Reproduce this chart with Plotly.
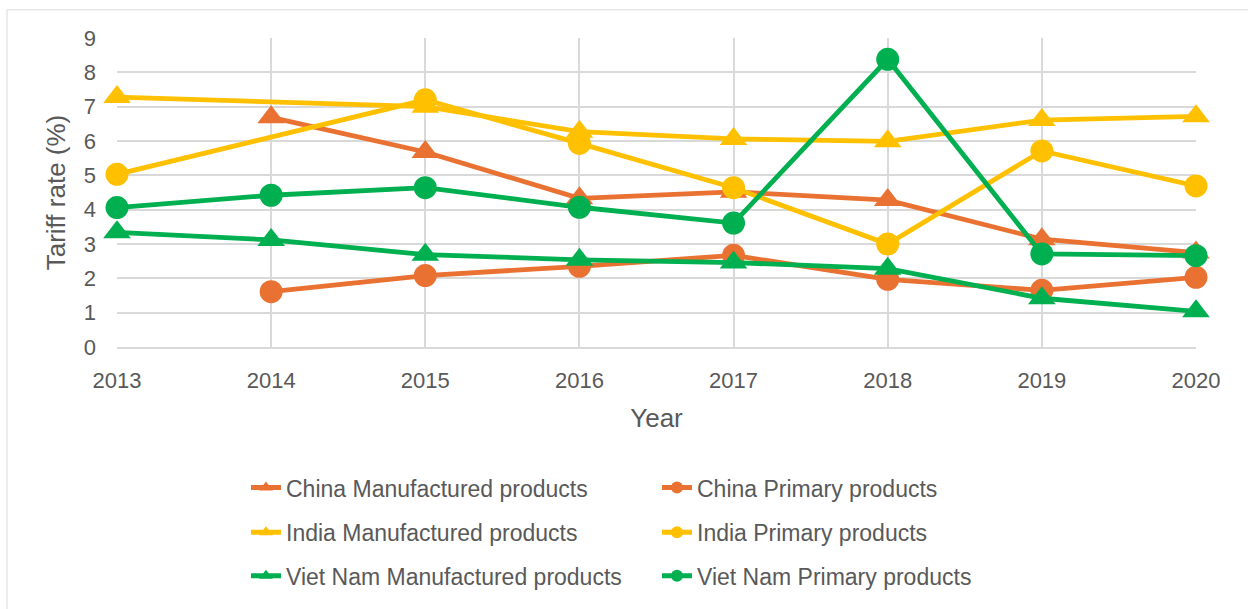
import plotly.graph_objects as go

# Tariff rates (%) by year; None marks a year with no reported rate
years = [2013, 2014, 2015, 2016, 2017, 2018, 2019, 2020]

china_manufactured = [None, 6.69, 5.68, 4.33, 4.52, 4.28, 3.14, 2.75]
china_primary = [None, 1.61, 2.08, 2.35, 2.67, 1.97, 1.65, 2.03]
india_manufactured = [7.28, None, 7.0, 6.27, 6.06, 5.99, 6.61, 6.72]
india_primary = [5.03, None, 7.2, 5.93, 4.64, 3.0, 5.71, 4.69]
vietnam_manufactured = [3.34, 3.12, 2.69, 2.54, 2.46, 2.28, 1.42, 1.04]
vietnam_primary = [4.06, 4.42, 4.64, 4.07, 3.61, 8.38, 2.71, 2.66]

ORANGE = "#E97132"
YELLOW = "#FFC000"
GREEN = "#00B050"
TEXT = "#595959"
GRID = "#D9D9D9"
FONT = "Liberation Sans, Arial, sans-serif"

series = [
    ("China Manufactured products", china_manufactured, ORANGE, "triangle-up", "legend"),
    ("China Primary products", china_primary, ORANGE, "circle", "legend"),
    ("India Manufactured products", india_manufactured, YELLOW, "triangle-up", "legend2"),
    ("India Primary products", india_primary, YELLOW, "circle", "legend2"),
    ("Viet Nam Manufactured products", vietnam_manufactured, GREEN, "triangle-up", "legend3"),
    ("Viet Nam Primary products", vietnam_primary, GREEN, "circle", "legend3"),
]

fig = go.Figure()
for name, values, color, symbol, legend in series:
    fig.add_trace(go.Scatter(
        x=years, y=values, name=name, mode="lines+markers",
        connectgaps=True, cliponaxis=False,
        line=dict(color=color, width=4.8),
        marker=dict(color=color, symbol=symbol, size=23 if symbol == "circle" else 24,
                    line=dict(width=0)),
        legend=legend,
    ))

W, H = 1248, 609
L, R, T, B = 117, 52, 38, 259
pw, ph = W - L - R, H - T - B


def px_x(px):
    return (px - L) / pw


def px_y(py):
    return (H - B - py) / ph


legend_common = dict(
    orientation="h", xanchor="left", yanchor="middle",
    font=dict(family=FONT, size=23, color=TEXT),
    bgcolor="rgba(0,0,0,0)", itemsizing="constant",
    entrywidth=366, entrywidthmode="pixels",
    itemclick=False, itemdoubleclick=False,
)

fig.update_layout(
    width=W, height=H,
    margin=dict(l=L, r=R, t=T, b=B),
    paper_bgcolor="white", plot_bgcolor="white",
    font=dict(family=FONT, color=TEXT),
    showlegend=True,
    legend=dict(legend_common, x=px_x(246), y=px_y(492)),
    legend2=dict(legend_common, x=px_x(246), y=px_y(537)),
    legend3=dict(legend_common, x=px_x(246), y=px_y(581)),
    xaxis=dict(
        range=[2013, 2020], tickmode="array", tickvals=years,
        ticktext=[str(y) for y in years],
        showgrid=True, gridcolor=GRID, gridwidth=1.5,
        showline=True, linecolor=GRID, linewidth=1.5,
        zeroline=False, ticks="", ticklabelstandoff=13,
        tickfont=dict(family=FONT, size=22, color=TEXT),
        title=dict(text="Year", font=dict(family=FONT, size=26, color=TEXT), standoff=17),
        fixedrange=True,
    ),
    yaxis=dict(
        range=[0, 9], dtick=1,
        showgrid=True, gridcolor=GRID, gridwidth=1.5,
        showline=False, zeroline=False, ticks="", ticklabelstandoff=20,
        tickfont=dict(family=FONT, size=22, color=TEXT),
        title=dict(text="Tariff rate (%)", font=dict(family=FONT, size=26, color=TEXT), standoff=10),
        fixedrange=True,
    ),
    shapes=[dict(
        type="rect", xref="paper", yref="paper",
        x0=px_x(7), x1=px_x(1260), y0=px_y(620), y1=px_y(9.5),
        line=dict(color=GRID, width=1), fillcolor="rgba(0,0,0,0)", layer="below",
    )],
)

fig.write_html("out.html", config={"displayModeBar": False})
